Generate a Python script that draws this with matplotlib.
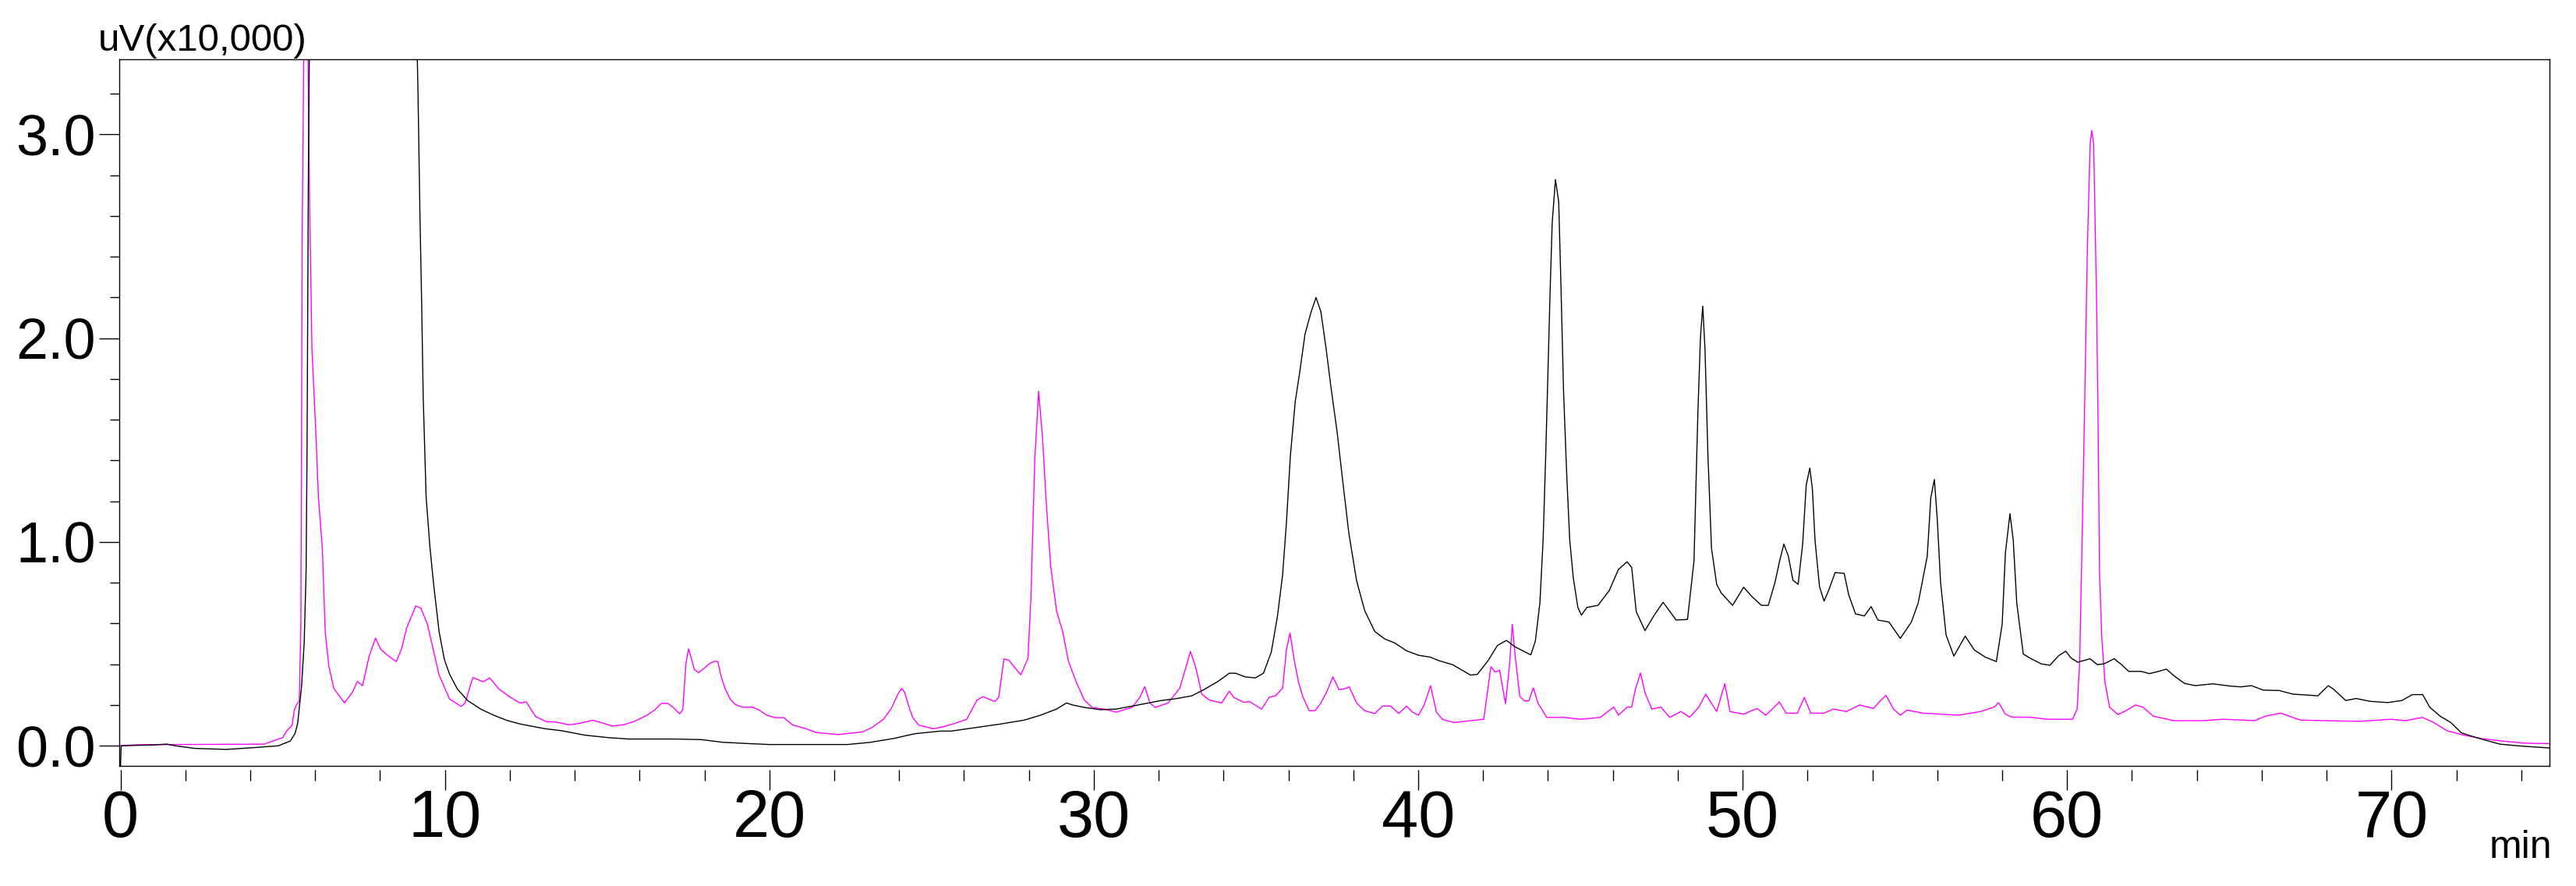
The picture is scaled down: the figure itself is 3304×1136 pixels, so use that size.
import matplotlib
matplotlib.use("Agg")
import matplotlib.pyplot as plt
import numpy as np

plt.rcParams['font.family'] = ['Liberation Sans', 'DejaVu Sans']

# ---- data: retention time (min) and signal (uV x10,000) ----
black_pts = [
    (0.0, -0.1), (0.02, 0.0), (1.0, 0.004), (1.43, 0.008), (1.68, 0.0), (2.29, -0.013), (3.27, -0.018),
    (4.13, -0.009), (4.87, 0.0), (5.23, 0.023), (5.38, 0.06), (5.46, 0.11), (5.52, 0.2), (5.58, 0.29),
    (5.66, 0.5), (5.72, 0.85), (5.75, 1.46), (5.79, 2.8), (5.83, 3.6), (9.12, 3.6), (9.17, 3.2),
    (9.23, 2.6), (9.28, 2.19), (9.33, 1.71), (9.42, 1.22), (9.54, 0.97), (9.66, 0.78), (9.82, 0.56),
    (9.98, 0.425), (10.14, 0.352), (10.38, 0.279), (10.70, 0.222), (11.1, 0.18), (11.5, 0.15),
    (11.9, 0.125), (12.31, 0.107), (12.8, 0.092), (13.11, 0.083), (13.59, 0.074), (14.31, 0.052),
    (15.03, 0.04), (15.67, 0.033), (17.11, 0.033), (17.91, 0.03), (18.56, 0.017), (19.44, 0.01),
    (20.0, 0.006), (21.12, 0.006), (22.4, 0.006), (23.12, 0.017), (23.84, 0.036), (24.48, 0.059),
    (25.28, 0.072), (25.6, 0.072), (26.4, 0.09), (27.14, 0.107), (27.86, 0.126), (28.36, 0.15),
    (28.85, 0.18), (29.16, 0.21), (29.35, 0.2), (29.71, 0.188), (30.2, 0.177), (30.69, 0.18),
    (31.3, 0.198), (32.04, 0.221), (32.53, 0.231), (33.02, 0.245), (33.39, 0.275), (33.82, 0.315),
    (34.18, 0.356), (34.37, 0.356), (34.67, 0.338), (34.98, 0.333), (35.23, 0.356), (35.47, 0.459),
    (35.66, 0.634), (35.82, 0.839), (35.94, 1.10), (36.06, 1.425), (36.21, 1.69), (36.35, 1.836),
    (36.51, 2.02), (36.7, 2.13), (36.85, 2.2), (37.0, 2.13), (37.16, 1.95), (37.31, 1.76), (37.5, 1.54),
    (37.68, 1.29), (37.86, 1.045), (38.1, 0.81), (38.35, 0.663), (38.66, 0.561), (38.97, 0.524),
    (39.27, 0.505), (39.64, 0.466), (40.01, 0.444), (40.37, 0.435), (40.63, 0.418), (41.06, 0.398),
    (41.61, 0.347), (41.82, 0.35), (42.16, 0.419), (42.44, 0.492), (42.72, 0.517), (42.99, 0.485),
    (43.47, 0.446), (43.61, 0.513), (43.75, 0.70), (43.85, 1.01), (43.93, 1.426), (44.0, 1.84),
    (44.07, 2.256), (44.13, 2.567), (44.23, 2.779), (44.33, 2.67), (44.4, 2.256), (44.48, 1.737),
    (44.58, 1.32), (44.67, 1.01), (44.78, 0.824), (44.92, 0.679), (45.03, 0.641), (45.2, 0.679),
    (45.54, 0.689), (45.89, 0.762), (46.17, 0.865), (46.44, 0.903), (46.58, 0.875), (46.72, 0.658),
    (46.99, 0.565), (47.27, 0.64), (47.55, 0.704), (47.95, 0.617), (48.3, 0.62), (48.5, 0.907),
    (48.62, 1.633), (48.7, 2.007), (48.77, 2.158), (48.84, 1.945), (48.93, 1.426), (49.04, 0.969),
    (49.2, 0.792), (49.34, 0.75), (49.69, 0.689), (50.03, 0.778), (50.3, 0.73), (50.58, 0.689),
    (50.79, 0.689), (51.0, 0.803), (51.13, 0.9), (51.27, 0.99), (51.41, 0.93), (51.55, 0.813),
    (51.71, 0.792), (51.85, 0.99), (51.96, 1.28), (52.07, 1.363), (52.15, 1.26), (52.23, 1.01),
    (52.37, 0.78), (52.51, 0.71), (52.65, 0.762), (52.85, 0.85), (53.13, 0.846), (53.27, 0.74),
    (53.48, 0.647), (53.75, 0.637), (53.96, 0.683), (54.17, 0.617), (54.51, 0.607), (54.86, 0.527),
    (55.2, 0.607), (55.41, 0.70), (55.69, 0.93), (55.8, 1.218), (55.91, 1.307), (56.0, 1.11),
    (56.1, 0.803), (56.27, 0.544), (56.51, 0.44), (56.86, 0.538), (57.14, 0.47), (57.48, 0.435),
    (57.82, 0.413), (58.0, 0.597), (58.1, 0.948), (58.24, 1.139), (58.34, 1.01), (58.45, 0.70),
    (58.65, 0.45), (58.86, 0.43), (59.2, 0.402), (59.47, 0.395), (59.74, 0.442), (59.96, 0.464),
    (60.12, 0.431), (60.33, 0.41), (60.71, 0.427), (60.93, 0.398), (61.14, 0.402), (61.45, 0.427),
    (61.68, 0.398), (61.9, 0.365), (62.28, 0.365), (62.54, 0.354), (62.82, 0.365), (63.06, 0.376),
    (63.3, 0.343), (63.62, 0.306), (63.95, 0.295), (64.49, 0.304), (65.02, 0.293), (65.35, 0.289),
    (65.68, 0.295), (66.05, 0.273), (66.54, 0.271), (66.97, 0.253), (67.4, 0.249), (67.73, 0.245),
    (68.05, 0.295), (68.21, 0.278), (68.59, 0.222), (68.91, 0.232), (69.34, 0.218), (69.88, 0.212),
    (70.32, 0.222), (70.64, 0.251), (70.96, 0.251), (71.18, 0.189), (71.5, 0.145), (71.82, 0.115),
    (72.15, 0.064), (72.47, 0.047), (72.79, 0.032), (73.34, 0.008), (73.88, 0.0), (74.31, -0.005),
    (74.96, -0.012),
]
magenta_pts = [
    (0.0, 0.0), (0.5, 0.005), (4.43, 0.008), (4.74, 0.026), (5.0, 0.04), (5.13, 0.074), (5.29, 0.10),
    (5.35, 0.17), (5.42, 0.2), (5.51, 0.22), (5.56, 0.6), (5.60, 2.5), (5.66, 3.6), (5.71, 3.9),
    (5.77, 3.5), (5.82, 2.75), (5.90, 1.95), (6.02, 1.54), (6.10, 1.22), (6.22, 0.97), (6.31, 0.56),
    (6.42, 0.39), (6.58, 0.28), (6.90, 0.21), (7.14, 0.26), (7.30, 0.315), (7.46, 0.295), (7.66, 0.437),
    (7.86, 0.528), (8.02, 0.474), (8.22, 0.445), (8.50, 0.413), (8.66, 0.474), (8.82, 0.578),
    (9.10, 0.686), (9.26, 0.675), (9.46, 0.596), (9.62, 0.486), (9.82, 0.347), (10.14, 0.23),
    (10.50, 0.193), (10.62, 0.21), (10.86, 0.335), (11.18, 0.314), (11.38, 0.333), (11.66, 0.279),
    (11.98, 0.242), (12.31, 0.21), (12.51, 0.215), (12.79, 0.144), (13.11, 0.119), (13.43, 0.116),
    (13.83, 0.103), (14.15, 0.11), (14.55, 0.125), (14.79, 0.115), (15.15, 0.097), (15.51, 0.103),
    (15.83, 0.119), (16.23, 0.15), (16.47, 0.176), (16.67, 0.208), (16.87, 0.208), (17.03, 0.189),
    (17.23, 0.157), (17.33, 0.176), (17.43, 0.406), (17.51, 0.476), (17.59, 0.43), (17.69, 0.374),
    (17.82, 0.359), (17.99, 0.38), (18.15, 0.403), (18.32, 0.415), (18.41, 0.413), (18.51, 0.342),
    (18.64, 0.278), (18.8, 0.227), (18.95, 0.202), (19.19, 0.189), (19.48, 0.189), (19.68, 0.176),
    (19.92, 0.15), (20.16, 0.138), (20.44, 0.138), (20.72, 0.102), (21.12, 0.084), (21.44, 0.065),
    (22.12, 0.055), (22.88, 0.068), (23.2, 0.093), (23.52, 0.131), (23.76, 0.183), (23.96, 0.253),
    (24.07, 0.281), (24.16, 0.266), (24.28, 0.202), (24.42, 0.138), (24.6, 0.102), (25.04, 0.083),
    (25.36, 0.093), (25.66, 0.107), (26.08, 0.129), (26.4, 0.224), (26.58, 0.241), (26.95, 0.217),
    (27.07, 0.238), (27.23, 0.426), (27.38, 0.42), (27.56, 0.385), (27.75, 0.348), (27.97, 0.428),
    (28.06, 0.72), (28.18, 1.40), (28.3, 1.74), (28.42, 1.51), (28.54, 1.18), (28.67, 0.883),
    (28.85, 0.663), (29.04, 0.561), (29.22, 0.414), (29.46, 0.312), (29.71, 0.224), (29.95, 0.188),
    (30.32, 0.18), (30.69, 0.165), (31.18, 0.188), (31.42, 0.238), (31.57, 0.29), (31.73, 0.21),
    (31.89, 0.188), (32.29, 0.21), (32.65, 0.283), (32.84, 0.385), (32.98, 0.463), (33.14, 0.385),
    (33.33, 0.253), (33.57, 0.224), (33.94, 0.21), (34.18, 0.268), (34.31, 0.238), (34.62, 0.213),
    (34.8, 0.217), (35.17, 0.18), (35.41, 0.238), (35.6, 0.245), (35.82, 0.283), (35.94, 0.473),
    (36.05, 0.553), (36.17, 0.428), (36.31, 0.312), (36.45, 0.238), (36.64, 0.172), (36.82, 0.172),
    (37.0, 0.21), (37.19, 0.268), (37.37, 0.338), (37.56, 0.275), (37.74, 0.28), (37.87, 0.29),
    (38.1, 0.21), (38.35, 0.172), (38.66, 0.158), (38.9, 0.195), (39.15, 0.195), (39.4, 0.158),
    (39.64, 0.195), (39.82, 0.165), (40.01, 0.15), (40.19, 0.202), (40.38, 0.295), (40.56, 0.165),
    (40.75, 0.129), (41.11, 0.114), (41.61, 0.123), (42.02, 0.13), (42.24, 0.388), (42.37, 0.362),
    (42.51, 0.37), (42.69, 0.206), (42.81, 0.388), (42.9, 0.596), (42.99, 0.44), (43.13, 0.243),
    (43.27, 0.22), (43.41, 0.22), (43.55, 0.284), (43.69, 0.21), (43.96, 0.139), (44.51, 0.139),
    (44.99, 0.13), (45.61, 0.139), (46.03, 0.19), (46.17, 0.15), (46.44, 0.19), (46.58, 0.19),
    (46.69, 0.274), (46.85, 0.357), (46.99, 0.26), (47.2, 0.18), (47.48, 0.19), (47.75, 0.139),
    (48.1, 0.168), (48.37, 0.14), (48.65, 0.19), (48.86, 0.253), (49.2, 0.168), (49.45, 0.305),
    (49.61, 0.168), (50.03, 0.155), (50.44, 0.183), (50.72, 0.15), (51.13, 0.215), (51.34, 0.16),
    (51.69, 0.16), (51.9, 0.237), (52.1, 0.16), (52.51, 0.16), (52.79, 0.18), (53.2, 0.168),
    (53.61, 0.2), (54.03, 0.183), (54.24, 0.22), (54.42, 0.247), (54.65, 0.18), (54.86, 0.15),
    (55.07, 0.175), (55.55, 0.16), (56.1, 0.155), (56.65, 0.15), (57.34, 0.168), (57.76, 0.19),
    (57.89, 0.212), (58.1, 0.155), (58.31, 0.14), (58.86, 0.14), (59.41, 0.13), (60.17, 0.13),
    (60.31, 0.18), (60.39, 0.42), (60.48, 1.15), (60.55, 1.74), (60.62, 2.4), (60.71, 2.95),
    (60.76, 3.02), (60.82, 2.95), (60.91, 2.18), (60.96, 1.52), (61.0, 0.86), (61.07, 0.53),
    (61.17, 0.31), (61.31, 0.19), (61.57, 0.153), (61.79, 0.17), (62.11, 0.2), (62.33, 0.19),
    (62.66, 0.145), (63.3, 0.123), (64.17, 0.123), (64.82, 0.13), (65.78, 0.123), (66.11, 0.145),
    (66.59, 0.16), (67.19, 0.126), (67.94, 0.123), (69.02, 0.12), (70.0, 0.13), (70.42, 0.123),
    (70.96, 0.139), (71.29, 0.115), (71.72, 0.073), (72.26, 0.051), (72.79, 0.035), (73.35, 0.024),
    (74.1, 0.013), (74.96, 0.01),
]
black_t = [p[0] for p in black_pts]
black_v = [p[1] for p in black_pts]
magenta_t = [p[0] for p in magenta_pts]
magenta_v = [p[1] for p in magenta_pts]

x_major = [0, 10, 20, 30, 40, 50, 60, 70]
x_minor = [t for t in range(0, 75, 2) if t % 10 != 0]
y_major = [0.0, 1.0, 2.0, 3.0]
y_minor = [0.2, 0.4, 0.6, 0.8, 1.2, 1.4, 1.6, 1.8, 2.2, 2.4, 2.6, 2.8, 3.2]

# ---- figure ----
W, H = 3304, 1136
fig = plt.figure(figsize=(W / 100, H / 100), dpi=100)
ax = fig.add_axes([153 / W, (H - 982.3) / H, (3270 - 153) / W, (982.3 - 76.3) / H])

ax.plot(magenta_t, magenta_v, color='#FF00FF', lw=1.0, zorder=2)
ax.plot(black_t, black_v, color='black', lw=1.0, zorder=3)

ax.set_xlim(-0.038, 74.87)
ax.set_ylim(-0.1, 3.368)

for s in ax.spines.values():
    s.set_linewidth(1.0)
    s.set_color('black')

# y ticks
ax.set_yticks(y_major)
ax.set_yticklabels([f"{v:.1f}" for v in y_major])
ax.set_yticks(y_minor, minor=True)
ax.tick_params(axis='y', which='major', direction='out', length=18.7, width=1.0,
               pad=3, labelsize=53)
ax.tick_params(axis='y', which='minor', direction='out', length=8.6, width=1.0)

# x ticks: labels via matplotlib, marks drawn with a gap below the spine
ax.set_xticks(x_major)
ax.set_xticklabels([str(v) for v in x_major])
ax.tick_params(axis='x', which='both', length=0, pad=21, labelsize=61)

ax_h_px = 982.3 - 76.3
gap = -4.4 / ax_h_px
minor_end = -18.4 / ax_h_px
major_end = -31.0 / ax_h_px
trans = ax.get_xaxis_transform()
ax.vlines(x_major, major_end, gap, transform=trans, colors='black', lw=1.0, clip_on=False)
ax.vlines(x_minor, minor_end, gap, transform=trans, colors='black', lw=1.0, clip_on=False)

fig.text(126 / W, (H - 65) / H, "uV(x10,000)", fontsize=35.5, ha='left', va='baseline')
fig.text(3273 / W, (H - 1100) / H, "min", fontsize=36, ha='right', va='baseline')

fig.savefig("out.png", dpi=100)
